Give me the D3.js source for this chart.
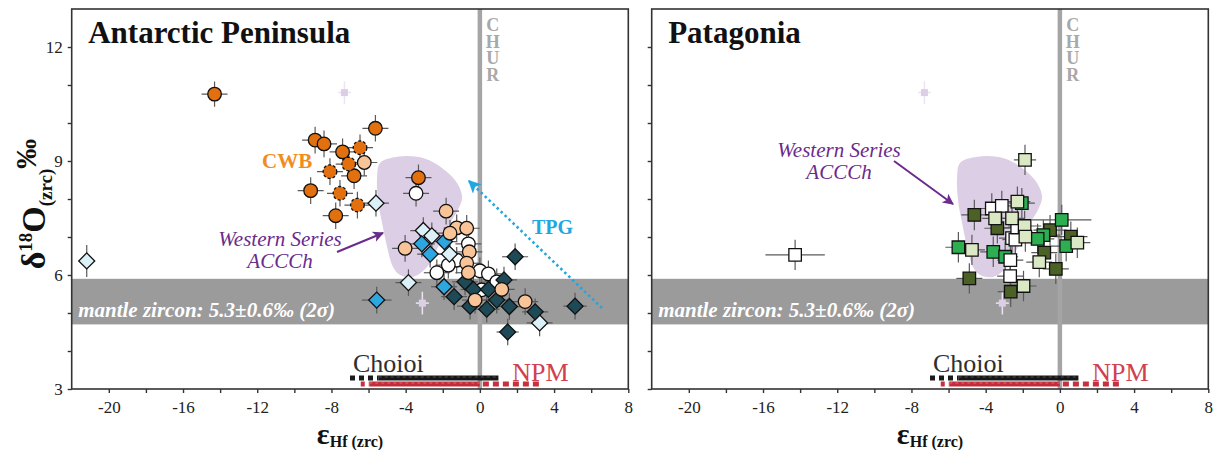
<!DOCTYPE html>
<html>
<head>
<meta charset="utf-8">
<script src="https://cdn.jsdelivr.net/npm/d3@7"></script>
<style>
  html, body { margin: 0; padding: 0; background: #fff; }
  svg { display: block; }
  .chur { writing-mode: vertical-rl; text-orientation: upright; }
</style>
</head>
<body>
<svg id="chart" width="1219" height="450"></svg>
<script>
// ---------- axis settings ----------
const xDomain = [-22, 8];
const yDomain = [3, 13];
const xTickValues = [-20, -18, -16, -14, -12, -10, -8, -6, -4, -2, 0, 2, 4, 6, 8];
const xTickLabels = [-20, -16, -12, -8, -4, 0, 4, 8];
const yTickValues = [3, 4, 5, 6, 7, 8, 9, 10, 11, 12];
const yTickLabels = [3, 6, 9, 12];

// mantle zircon δ18O window: 5.3 ± 0.6 ‰
const mantleZircon = [4.7, 5.9];
const churEpsilon = 0;

// Western Series ACCCh field outline [εHf, δ18O]
const accchField = [
  [-5.38, 8.95], [-4.46, 9.11], [-3.39, 9.11], [-2.52, 8.97], [-1.77, 8.71],
  [-1.23, 8.42], [-0.96, 8.05], [-1.18, 7.71], [-1.61, 7.37], [-2.15, 6.84],
  [-2.85, 6.21], [-3.60, 5.95], [-4.30, 6.00], [-4.68, 6.21], [-5.00, 6.74],
  [-5.27, 7.37], [-5.49, 7.97], [-5.54, 8.58]
];

// faint reference analyses [εHf, δ18O]
const faintPoints = [[-7.3, 10.8], [-3.1, 5.26]];

// Choioi and NPM εHf ranges
const choioiDashed = [-7.0, -5.45];
const choioiSolid = [-5.45, 1.0];
const npmDashed = [-6.42, -5.96];
const npmSolid = [-5.96, 0.0];
const npmDotted = [0.0, 3.25];

// ---------- Antarctic Peninsula: [εHf, δ18O, ±εHf, ±δ18O] ----------
const cwbSolid = [
  [-14.3, 10.76, 0.7, 0.33], [-5.63, 9.86, 0.7, 0.35], [-8.88, 9.55, 0.7, 0.35],
  [-8.40, 9.45, 0.7, 0.35], [-7.40, 9.24, 0.7, 0.35], [-6.78, 8.61, 0.7, 0.35],
  [-9.12, 8.22, 0.7, 0.35], [-7.77, 7.56, 0.7, 0.35], [-3.31, 8.56, 0.7, 0.35]
];
const cwbDashed = [
  [-6.46, 9.35, 0.7, 0.35], [-7.07, 8.92, 0.7, 0.35], [-8.08, 8.72, 0.7, 0.35],
  [-7.54, 8.15, 0.7, 0.35], [-6.60, 7.84, 0.7, 0.35]
];
const apWhite = [
  [-3.44, 8.15, 0.7, 0.35], [-0.62, 6.82, 0.7, 0.35], [-1.25, 6.39, 0.7, 0.35],
  [-1.70, 6.26, 0.7, 0.35], [-2.32, 6.06, 0.7, 0.35], [0.00, 6.11, 0.7, 0.35],
  [0.46, 6.03, 0.7, 0.35], [0.91, 5.82, 0.7, 0.35], [0.10, 5.61, 0.7, 0.35]
];
const apLightBlue = [
  [-21.19, 6.37, 0.4, 0.42], [-5.60, 7.89, 0.7, 0.35], [-3.05, 7.17, 0.7, 0.35],
  [-2.59, 7.03, 0.7, 0.35], [-1.64, 6.55, 0.7, 0.35], [-3.85, 5.80, 0.7, 0.35],
  [3.22, 4.74, 0.7, 0.35]
];
const apBlue = [
  [-3.13, 6.82, 0.7, 0.35], [-2.68, 6.55, 0.7, 0.35], [-1.91, 6.88, 0.7, 0.35],
  [-1.93, 5.69, 0.7, 0.35], [-5.56, 5.34, 0.8, 0.35]
];
const apDarkTeal = [
  [-1.39, 5.43, 0.7, 0.35], [-0.80, 5.82, 0.7, 0.35], [-0.35, 5.62, 0.7, 0.35],
  [0.46, 5.62, 0.7, 0.35], [1.30, 5.87, 0.7, 0.35], [0.91, 5.34, 0.7, 0.35],
  [-0.53, 5.18, 0.7, 0.35], [0.37, 5.10, 0.7, 0.35], [1.59, 5.17, 0.7, 0.35],
  [2.98, 5.03, 0.7, 0.35], [1.90, 6.48, 0.7, 0.35], [5.13, 5.18, 0.63, 0.35],
  [1.50, 4.50, 0.6, 0.35]
];
const apPeach = [
  [-6.23, 8.96, 0.7, 0.35], [-1.82, 7.68, 0.7, 0.35], [-4.03, 6.70, 0.7, 0.35],
  [-1.25, 7.24, 0.7, 0.35], [-0.71, 7.23, 0.7, 0.35], [-1.61, 7.10, 0.7, 0.35],
  [-0.57, 6.61, 0.7, 0.35], [-0.71, 6.31, 0.7, 0.35], [-0.62, 6.06, 0.7, 0.35],
  [1.18, 5.62, 0.7, 0.35], [-0.26, 5.34, 0.7, 0.35], [2.44, 5.30, 0.7, 0.35]
];

// ---------- Patagonia: [εHf, δ18O, ±εHf, ±δ18O] ----------
const patOlive = [
  [-4.61, 7.58, 0.7, 0.4], [-3.37, 7.23, 0.7, 0.4], [-0.53, 7.18, 0.9, 0.4],
  [-0.84, 6.59, 0.7, 0.4], [-0.22, 6.16, 0.7, 0.4], [0.59, 7.01, 0.9, 0.4],
  [-4.88, 5.91, 0.7, 0.4], [-2.65, 5.56, 0.7, 0.4]
];
const patGreen = [
  [-2.05, 7.89, 0.7, 0.4], [-0.89, 7.05, 0.9, 0.4], [0.10, 7.45, 1.6, 0.4],
  [-5.47, 6.73, 0.7, 0.4], [-3.59, 6.61, 0.7, 0.4], [-2.95, 6.48, 0.7, 0.4],
  [0.34, 6.76, 0.9, 0.4], [-1.20, 6.95, 0.9, 0.4]
];
const patWhite = [
  [-14.27, 6.53, 1.6, 0.4], [-3.67, 7.75, 0.7, 0.4], [-3.13, 7.82, 0.7, 0.4],
  [-2.58, 6.97, 0.7, 0.4], [-2.40, 6.93, 0.7, 0.4], [-2.67, 6.39, 0.7, 0.4],
  [-2.68, 5.97, 0.7, 0.4], [-2.30, 7.25, 0.7, 0.4]
];
const patLightGreen = [
  [-1.88, 9.03, 0.6, 0.4], [-2.29, 7.93, 0.7, 0.4], [-3.49, 7.49, 0.7, 0.4],
  [-2.58, 7.49, 0.7, 0.4], [-1.90, 7.29, 0.9, 0.4], [-4.74, 6.66, 0.7, 0.4],
  [-1.86, 7.01, 0.9, 0.4], [-1.11, 6.34, 0.7, 0.4], [0.94, 6.85, 0.7, 0.4],
  [-1.96, 5.71, 0.7, 0.4]
];

// ---------- drawing ----------
const serif = '"Liberation Serif","Times New Roman",serif';
const svg = d3.select('#chart');
const defs = svg.append('defs');

// arrow heads
function marker(id, color, w, h) {
  defs.append('marker')
    .attr('id', id).attr('viewBox', '0 0 10 10')
    .attr('refX', 9).attr('refY', 5)
    .attr('markerUnits', 'userSpaceOnUse')
    .attr('markerWidth', w).attr('markerHeight', h)
    .attr('orient', 'auto')
    .append('path').attr('d', 'M0,0 L10,5 L0,10 L2.5,5 Z').attr('fill', color);
}
marker('arrPurple', '#6a2b8c', 14, 11);
marker('arrBlue', '#22a6e2', 16, 13);

const purple = '#6a2b8c';

const panels = [
  {
    title: 'Antarctic Peninsula',
    range: [71.7, 628.3],
    yLabels: true,
    series: [
      { data: cwbSolid, shape: 'circle', fill: '#e2700f' },
      { data: cwbDashed, shape: 'circle', fill: '#e2700f', dash: '3,2' },
      { data: apWhite, shape: 'circle', fill: '#ffffff' },
      { data: apLightBlue, shape: 'diamond', fill: '#dcf0f8' },
      { data: apBlue, shape: 'diamond', fill: '#2ea6e0' },
      { data: apDarkTeal, shape: 'diamond', fill: '#1d4a56' },
      { data: apPeach, shape: 'circle', fill: '#f9c498' }
    ],
    ws: { x: 280, y: 246, from: [337, 252], to: [383, 233] },
    extra: true
  },
  {
    title: 'Patagonia',
    range: [651.7, 1208.3],
    yLabels: false,
    series: [
      { data: patOlive, shape: 'square', fill: '#4b6126' },
      { data: patGreen, shape: 'square', fill: '#2caf50' },
      { data: patWhite, shape: 'square', fill: '#ffffff' },
      { data: patLightGreen, shape: 'square', fill: '#dae8c3' }
    ],
    ws: { x: 839, y: 157, from: [894, 161], to: [953, 204] },
    extra: false
  }
];

const y = d3.scaleLinear().domain(yDomain).range([389, 9]);

panels.forEach((p, i) => {
  const x = d3.scaleLinear().domain(xDomain).range(p.range);
  const g = svg.append('g');
  const [x0, x1] = p.range;
  const yTop = y(yDomain[1]), yBot = y(yDomain[0]);

  const clipId = 'clip' + i;
  defs.append('clipPath').attr('id', clipId)
    .append('rect').attr('x', x0).attr('y', yTop).attr('width', x1 - x0).attr('height', yBot - yTop);
  const plot = g.append('g').attr('clip-path', `url(#${clipId})`);

  // mantle zircon band
  plot.append('rect')
    .attr('x', x0).attr('width', x1 - x0)
    .attr('y', y(mantleZircon[1])).attr('height', y(mantleZircon[0]) - y(mantleZircon[1]))
    .attr('fill', '#9b9b9b');

  // ACCCh field
  plot.append('path')
    .datum(accchField)
    .attr('d', d3.line().x(d => x(d[0])).y(d => y(d[1])).curve(d3.curveCatmullRomClosed.alpha(0.5)))
    .attr('fill', '#dccfe5');

  // CHUR reference line with vertical label
  plot.append('line')
    .attr('x1', x(churEpsilon)).attr('x2', x(churEpsilon))
    .attr('y1', yTop).attr('y2', yBot)
    .attr('stroke', '#a5a5a5').attr('stroke-width', 4.5);
  g.append('text')
    .attr('class', 'chur')
    .attr('x', x(churEpsilon) + 13).attr('y', 15)
    .attr('font-family', serif).attr('font-size', 18).attr('font-weight', 'bold')
    .attr('letter-spacing', -3.5)
    .attr('fill', '#a8a8a8')
    .text('CHUR');

  // faint reference analyses
  faintPoints.forEach(d => {
    plot.append('line').attr('x1', x(d[0])).attr('x2', x(d[0]))
      .attr('y1', y(d[1] + 0.3)).attr('y2', y(d[1] - 0.3))
      .attr('stroke', '#ece5f1').attr('stroke-width', 1.5);
    plot.append('line').attr('x1', x(d[0] - 0.35)).attr('x2', x(d[0] + 0.35))
      .attr('y1', y(d[1])).attr('y2', y(d[1]))
      .attr('stroke', '#ece5f1').attr('stroke-width', 1.5);
    plot.append('rect').attr('x', x(d[0]) - 3.5).attr('y', y(d[1]) - 3.5)
      .attr('width', 7).attr('height', 7).attr('fill', '#dccfe5');
  });

  // error bars
  const eb = plot.append('g').attr('stroke', '#5a5a5a').attr('stroke-width', 1.2);
  p.series.forEach(s => {
    s.data.forEach(d => {
      eb.append('line').attr('x1', x(d[0] - d[2])).attr('x2', x(d[0] + d[2]))
        .attr('y1', y(d[1])).attr('y2', y(d[1]));
      eb.append('line').attr('x1', x(d[0])).attr('x2', x(d[0]))
        .attr('y1', y(d[1] - d[3])).attr('y2', y(d[1] + d[3]));
    });
  });

  // markers
  const symSquare = d3.symbol(d3.symbolSquare, 156)();
  const symDiamond = d3.symbol(d3.symbolSquare, 128)();
  p.series.forEach(s => {
    const sg = plot.append('g');
    s.data.forEach(d => {
      let m;
      if (s.shape === 'circle') {
        m = sg.append('circle').attr('cx', x(d[0])).attr('cy', y(d[1])).attr('r', 6.8);
      } else if (s.shape === 'diamond') {
        m = sg.append('path').attr('d', symDiamond)
          .attr('transform', `translate(${x(d[0])},${y(d[1])}) rotate(45)`);
      } else {
        m = sg.append('path').attr('d', symSquare)
          .attr('transform', `translate(${x(d[0])},${y(d[1])})`);
      }
      m.attr('fill', s.fill).attr('stroke', '#111').attr('stroke-width', 1.3);
      if (s.dash) m.attr('stroke-dasharray', s.dash);
    });
  });

  // mantle zircon label
  g.append('text')
    .attr('x', x0 + 6.5).attr('y', 316.5)
    .attr('font-family', serif).attr('font-size', 21)
    .attr('font-weight', 'bold').attr('font-style', 'italic')
    .attr('fill', '#ffffff')
    .text('mantle zircon: 5.3±0.6‰ (2σ)');

  // Choioi range
  const barY1 = 378, barY2 = 384;
  g.append('line').attr('x1', x(choioiDashed[0])).attr('x2', x(choioiDashed[1]))
    .attr('y1', barY1).attr('y2', barY1)
    .attr('stroke', '#1a1a1a').attr('stroke-width', 5).attr('stroke-dasharray', '5,4');
  g.append('line').attr('x1', x(choioiSolid[0])).attr('x2', x(choioiSolid[1]))
    .attr('y1', barY1).attr('y2', barY1)
    .attr('stroke', '#161616').attr('stroke-width', 5);
  g.append('line').attr('x1', x(choioiSolid[0])).attr('x2', x(choioiSolid[1]))
    .attr('y1', barY1 - 1).attr('y2', barY1 - 1)
    .attr('stroke', '#3c3c3c').attr('stroke-width', 1.5).attr('stroke-dasharray', '3,3');
  // NPM range
  g.append('line').attr('x1', x(npmDashed[0])).attr('x2', x(npmDashed[1]))
    .attr('y1', barY2).attr('y2', barY2)
    .attr('stroke', '#c8303e').attr('stroke-width', 5).attr('stroke-dasharray', '4,4');
  g.append('line').attr('x1', x(npmSolid[0])).attr('x2', x(npmSolid[1]))
    .attr('y1', barY2).attr('y2', barY2)
    .attr('stroke', '#c42c3a').attr('stroke-width', 5);
  g.append('line').attr('x1', x(npmSolid[0])).attr('x2', x(npmSolid[1]))
    .attr('y1', barY2 - 1).attr('y2', barY2 - 1)
    .attr('stroke', '#d85462').attr('stroke-width', 1.5).attr('stroke-dasharray', '3,3');
  g.append('line').attr('x1', x(npmDotted[0]) + 3).attr('x2', x(npmDotted[1]))
    .attr('y1', barY2).attr('y2', barY2)
    .attr('stroke', '#c8303e').attr('stroke-width', 5).attr('stroke-dasharray', '6,4');

  g.append('text').attr('x', x(choioiDashed[0]) + 3).attr('y', 371.5)
    .attr('font-family', serif).attr('font-size', 26).attr('fill', '#2e2e2e').text('Choioi');
  g.append('text').attr('x', x(1.75)).attr('y', 381)
    .attr('font-family', serif).attr('font-size', 26).attr('fill', '#d0404e').text('NPM');

  // frame
  g.append('rect')
    .attr('x', x0).attr('y', yTop).attr('width', x1 - x0).attr('height', yBot - yTop)
    .attr('fill', 'none').attr('stroke', '#333').attr('stroke-width', 1.6);

  // axes
  const xAxis = d3.axisBottom(x).tickValues(xTickValues).tickSize(4).tickPadding(8)
    .tickFormat(d => xTickLabels.includes(d) ? String(d) : '');
  const gx = g.append('g').attr('transform', `translate(0,${yBot})`).call(xAxis);
  const yAxis = d3.axisLeft(y).tickValues(yTickValues).tickSize(4).tickPadding(5)
    .tickFormat(d => (p.yLabels && yTickLabels.includes(d)) ? String(d) : '');
  const gy = g.append('g').attr('transform', `translate(${x0},0)`).call(yAxis);
  [gx, gy].forEach(a => {
    a.select('.domain').remove();
    a.selectAll('line').attr('stroke', '#333').attr('stroke-width', 1.4);
    a.selectAll('text').attr('font-family', serif).attr('font-size', 17).attr('fill', '#222');
  });

  // x axis title
  const xt = g.append('text')
    .attr('x', (x0 + x1) / 2).attr('y', 444)
    .attr('text-anchor', 'middle')
    .attr('font-family', serif).attr('font-weight', 'bold').attr('fill', '#111');
  xt.append('tspan').attr('font-size', 30).text('ε');
  xt.append('tspan').attr('font-size', 16).attr('dy', 3).text('Hf (zrc)');

  // panel title
  g.append('text')
    .attr('x', x0 + 16.5).attr('y', 42.5)
    .attr('font-family', serif).attr('font-size', 31).attr('font-weight', 'bold')
    .attr('fill', '#111').text(p.title);

  // Western Series ACCCh label and arrow
  const ws = g.append('text')
    .attr('text-anchor', 'middle')
    .attr('font-family', serif).attr('font-size', 21).attr('font-style', 'italic')
    .attr('fill', purple);
  ws.append('tspan').attr('x', p.ws.x).attr('y', p.ws.y).text('Western Series');
  ws.append('tspan').attr('x', p.ws.x).attr('y', p.ws.y + 22).text('ACCCh');
  g.append('line')
    .attr('x1', p.ws.from[0]).attr('y1', p.ws.from[1])
    .attr('x2', p.ws.to[0]).attr('y2', p.ws.to[1])
    .attr('stroke', purple).attr('stroke-width', 2)
    .attr('marker-end', 'url(#arrPurple)');

  if (p.extra) {
    g.append('text').attr('x', 262).attr('y', 168)
      .attr('font-family', serif).attr('font-size', 21).attr('font-weight', 'bold')
      .attr('fill', '#f28c1e').text('CWB');
    g.append('text').attr('x', 532).attr('y', 234)
      .attr('font-family', serif).attr('font-size', 20).attr('font-weight', 'bold')
      .attr('fill', '#22a6e2').text('TPG');
    g.append('line')
      .attr('x1', 602).attr('y1', 308).attr('x2', 469).attr('y2', 181)
      .attr('stroke', '#22a6e2').attr('stroke-width', 2.6)
      .attr('stroke-dasharray', '2.5,3')
      .attr('marker-end', 'url(#arrBlue)');
  }
});

// y axis title
const yt = svg.append('text')
  .attr('transform', 'translate(45,204) rotate(-90)')
  .attr('text-anchor', 'middle')
  .attr('font-family', serif).attr('font-weight', 'bold').attr('fill', '#111');
yt.append('tspan').attr('font-size', 34).text('δ');
yt.append('tspan').attr('font-size', 19).attr('dy', -13).text('18');
yt.append('tspan').attr('font-size', 34).attr('dy', 13).text('O');
yt.append('tspan').attr('font-size', 19).attr('dy', 7).text('(zrc)');
yt.append('tspan').attr('font-size', 30).attr('dy', -16).text('‰');
</script>
</body>
</html>
